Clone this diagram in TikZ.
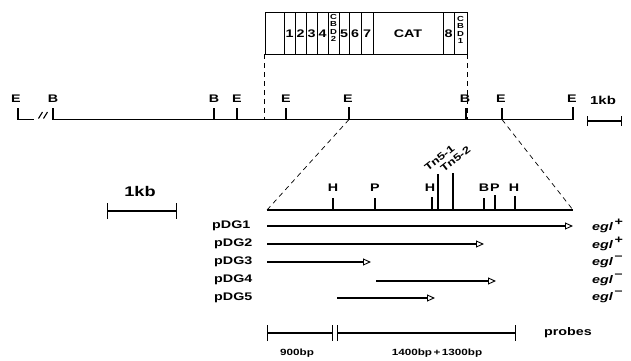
\documentclass[tikz,border=0pt]{standalone}
\usepackage{fontspec}
\setmainfont{Liberation Sans}[FakeStretch=1.3]
\usetikzlibrary{arrows.meta, positioning, calc}
\tikzset{
    maplabel/.style={font=\bfseries\fontsize{11}{12}\selectfont, inner sep=0pt},
    smalllabel/.style={font=\bfseries\fontsize{9}{10}\selectfont, inner sep=0pt},
    tnlabel/.style={font=\bfseries\fontsize{10}{11}\selectfont, inner sep=0pt, rotate=38, anchor=south west},
    cbdlabel/.style={font=\bfseries\fontsize{7.3}{7.4}\selectfont, align=center, inner sep=0pt},
    mapline/.style={line width=1.1pt},
    boxline/.style={line width=0.8pt},
    zoomline/.style={line width=0.7pt, dash pattern=on 5pt off 4pt},
    clone/.style={line width=1.1pt, -{Triangle[open, length=8pt, width=7pt, line width=0.9pt]}},
    scalebar/.style={line width=1.1pt, {Bar[width=16pt]}-{Bar[width=16pt]}},
    eglmark/.style={font=\bfseries\itshape\fontsize{11}{12}\selectfont, inner sep=0pt, anchor=west},
}
\begin{document}
\begin{tikzpicture}[x=1pt, y=-1pt]
    \useasboundingbox (0,0) rectangle (631,360);

    % === Gene cassette ===
    \node[draw, boxline, minimum width=202pt, minimum height=42pt, inner sep=0pt] (box) at (366,33) {};
    \draw[boxline] (284,12) -- (284,54);
    \draw[boxline] (295,12) -- (295,54);
    \draw[boxline] (306,12) -- (306,54);
    \draw[boxline] (317,12) -- (317,54);
    \draw[boxline] (328,12) -- (328,54);
    \draw[boxline] (339,12) -- (339,54);
    \draw[boxline] (349,12) -- (349,54);
    \draw[boxline] (361,12) -- (361,54);
    \draw[boxline] (373,12) -- (373,54);
    \draw[boxline] (443,12) -- (443,54);
    \draw[boxline] (454,12) -- (454,54);
    \node[maplabel] (c1) at (289.5,34) {1};
    \node[maplabel] (c2) at (300.5,34) {2};
    \node[maplabel] (c3) at (311.5,34) {3};
    \node[maplabel] (c4) at (322.5,34) {4};
    \node[cbdlabel] (cbd2) at (333.5,28) {C\\B\\D\\2};
    \node[maplabel] (c5) at (344,34) {5};
    \node[maplabel] (c6) at (355,34) {6};
    \node[maplabel] (c7) at (367,34) {7};
    \node[maplabel] (cat) at (408,34) {CAT};
    \node[maplabel] (c8) at (448.5,34) {8};
    \node[cbdlabel] (cbd1) at (460.5,30) {C\\B\\D\\1};

    % === Restriction map ===
    \coordinate (mE1) at (18,119.5);
    \coordinate (mB1) at (53,119.5);
    \coordinate (mB2) at (214,119.5);
    \coordinate (mE2) at (237,119.5);
    \coordinate (mE3) at (286,119.5);
    \coordinate (mE4) at (349,119.5);
    \coordinate (mB3) at (466,119.5);
    \coordinate (mE5) at (502,119.5);
    \coordinate (mE6) at (573,119.5);
    \draw[mapline] ($(mE1)+(0,-11.5)$) -- (mE1) -- ++(16,0);
    \draw[mapline] (38.5,118.5) -- (42.5,112);
    \draw[mapline] (43.5,118.5) -- (47.5,112);
    \draw[mapline] ($(mB1)+(0,-11.5)$) -- (mB1) -- (mE6) -- ++(0,-12.5);
    \draw[mapline] (mB2) -- ++(0,-11.5);
    \draw[mapline] (mE2) -- ++(0,-11.5);
    \draw[mapline] (mE3) -- ++(0,-11.5);
    \draw[mapline] (mE4) -- ++(0,-12.5);
    \draw[mapline] (mB3) -- ++(0,-11.5);
    \draw[mapline] (mE5) -- ++(0,-12);
    \node[maplabel] (lE1) at (16,99) {E};
    \node[maplabel] (lB1) at (53,99) {B};
    \node[maplabel] (lB2) at (214,99) {B};
    \node[maplabel] (lE2) at (237,99) {E};
    \node[maplabel] (lE3) at (286,99) {E};
    \node[maplabel] (lE4) at (348,99) {E};
    \node[maplabel] (lB3) at (465,99) {B};
    \node[maplabel] (lE5) at (501,99) {E};
    \node[maplabel] (lE6) at (572,99) {E};

    % scale 1kb (map)
    \coordinate (kbA) at (587,121);
    \coordinate (kbB) at (622,121);
    \draw[line width=1.1pt, {Bar[width=10pt]}-{Bar[width=10pt]}] (kbA) -- (kbB);
    \node[maplabel, font=\bfseries\fontsize{11.5}{12}\selectfont] (kb) at (603,100) {1kb};

    % dashed links cassette -> map
    \draw[zoomline] (box.south west) -- (box.south west |- mE1);
    \draw[zoomline] (box.south east) -- (box.south east |- mE1);

    % === Enlarged region ===
    \coordinate (dL) at (267,210);
    \coordinate (dR) at (573,210);
    \draw[zoomline] (mE4) -- (dL);
    \draw[zoomline] (mE5) -- (dR);
    \draw[mapline] (dL) -- (dR);
    \coordinate (dH1) at (333,210);
    \coordinate (dP1) at (375,210);
    \coordinate (dH2) at (432,210);
    \coordinate (tn1) at (438,210);
    \coordinate (tn2) at (453,210);
    \coordinate (dB1) at (484,210);
    \coordinate (dP2) at (495,210);
    \coordinate (dH3) at (515,210);
    \draw[mapline] (dH1) -- ++(0,-12);
    \draw[mapline] (dP1) -- ++(0,-12);
    \draw[mapline] (dH2) -- ++(0,-13);
    \draw[mapline] (tn1) -- ++(0,-36);
    \draw[mapline] (tn2) -- ++(0,-37);
    \draw[mapline] (dB1) -- ++(0,-12);
    \draw[mapline] (dP2) -- ++(0,-15);
    \draw[mapline] (dH3) -- ++(0,-14);
    \node[maplabel] (lH1) at (333,188) {H};
    \node[maplabel] (lP1) at (375,188) {P};
    \node[maplabel] (lH2) at (430,188) {H};
    \node[maplabel] (lB4) at (484,188) {B};
    \node[maplabel] (lP2) at (495,188) {P};
    \node[maplabel] (lH3) at (514,188) {H};
    \node[tnlabel] (ltn1) at (428,172) {Tn5-1};
    \node[tnlabel] (ltn2) at (444,173) {Tn5-2};

    % scale 1kb (enlarged)
    \coordinate (skA) at (107,211);
    \coordinate (skB) at (177,211);
    \draw[scalebar] (skA) -- (skB);
    \node[maplabel, font=\bfseries\fontsize{14}{16}\selectfont] (skb) at (140,191) {1kb};

    % === Subclones ===
    \node[maplabel, anchor=west] (pdg1) at (212,226) {pDG1};
    \node[maplabel, anchor=west] (pdg2) at (214,244) {pDG2};
    \node[maplabel, anchor=west] (pdg3) at (214,262) {pDG3};
    \node[maplabel, anchor=west] (pdg4) at (214,280) {pDG4};
    \node[maplabel, anchor=west] (pdg5) at (214,298) {pDG5};
    \coordinate (a1s) at (267,226); \coordinate (a1e) at (573,226);
    \coordinate (a2s) at (267,244); \coordinate (a2e) at (484,244);
    \coordinate (a3s) at (267,262); \coordinate (a3e) at (371,262);
    \coordinate (a4s) at (376,281); \coordinate (a4e) at (496,281);
    \coordinate (a5s) at (337,298); \coordinate (a5e) at (435,298);
    \draw[clone] (a1s) -- (a1e);
    \draw[clone] (a2s) -- (a2e);
    \draw[clone] (a3s) -- (a3e);
    \draw[clone] (a4s) -- (a4e);
    \draw[clone] (a5s) -- (a5e);
    \node[eglmark] (egl1) at (592,226) {egl\,\raisebox{5pt}{\upshape+}};
    \node[eglmark] (egl2) at (592,244) {egl\,\raisebox{5pt}{\upshape+}};
    \node[eglmark] (egl3) at (592,262) {egl\,\raisebox{6pt}{\upshape--}};
    \node[eglmark] (egl4) at (592,280) {egl\,\raisebox{6pt}{\upshape--}};
    \node[eglmark] (egl5) at (592,297) {egl\,\raisebox{6pt}{\upshape--}};

    % === Probes ===
    \coordinate (pr1a) at (267,333); \coordinate (pr1b) at (333,333);
    \coordinate (pr2a) at (337,333); \coordinate (pr2b) at (516,333);
    \draw[scalebar] (pr1a) -- (pr1b);
    \draw[scalebar] (pr2a) -- (pr2b);
    \node[maplabel] (probes) at (568,333) {probes};
    \node[smalllabel] (bp900) at (297,353) {900bp};
    \node[smalllabel] (bp2700) at (437,353) {1400bp\,+\,1300bp};
\end{tikzpicture}
\end{document}
